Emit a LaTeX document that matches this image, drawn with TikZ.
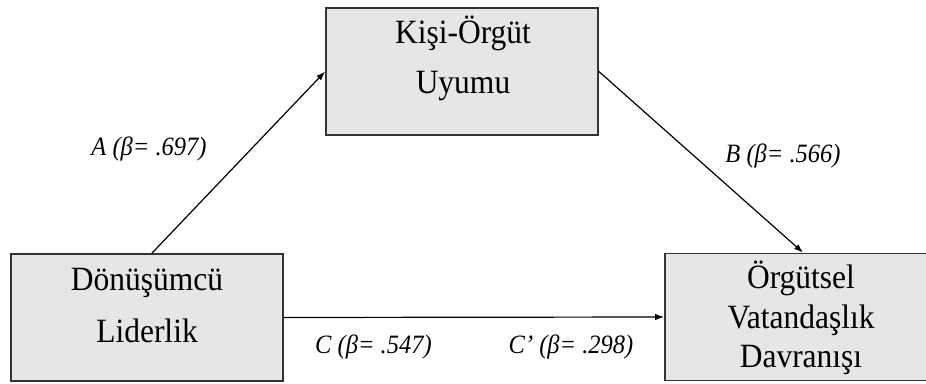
\documentclass[tikz,border=0pt]{standalone}
\usepackage{fontspec}
\setmainfont{Liberation Serif}
\usetikzlibrary{arrows.meta}
\definecolor{boxfill}{HTML}{E6E6E6}
\definecolor{boxline}{HTML}{333333}
\newcommand\talltext[1]{\scalebox{1}[1.08]{#1}}
\tikzset{
  varbox/.style={draw=boxline, line width=1.8pt, fill=boxfill, minimum width=272pt, minimum height=127pt, inner sep=0pt},
  boxtext/.style={anchor=base, inner sep=0pt, font=\fontsize{31.5}{37}\selectfont},
  coef/.style={anchor=base, inner sep=0pt, font=\fontsize{24.5}{28}\selectfont\itshape},
  path/.style={line width=1.2pt, -{Latex[length=9pt,width=6.5pt]}}
}
\begin{document}
\begin{tikzpicture}[x=1pt,y=-1pt]
\useasboundingbox (0,0) rectangle (926,383);
\node[varbox] (K) at (462,71.5) {};
\node[varbox] (D) at (147,317.5) {};
\node[varbox] (O) at (801,317) {};
\node[boxtext] (k1) at (463,43) {\talltext{Kişi-Örgüt}};
\node[boxtext] (k2) at (463,93) {\talltext{Uyumu}};
\node[boxtext] (d1) at (147,290) {\talltext{Dönüşümcü}};
\node[boxtext] (d2) at (147,342) {\talltext{Liderlik}};
\node[boxtext] (o1) at (801,288) {\talltext{Örgütsel}};
\node[boxtext] (o2) at (801,328) {\talltext{Vatandaşlık}};
\node[boxtext] (o3) at (801,367) {\talltext{Davranışı}};
\draw[path] ([xshift=5pt]D.north) -- (K.west);
\draw[path] (K.east) -- ([xshift=2pt]O.north);
\draw[path] (D.east) -- (O.west);
\node[coef] (la) at (149,155) {\talltext{A (β= .697)}};
\node[coef] (lb) at (783,162) {\talltext{B (β= .566)}};
\node[coef] (lc) at (373.5,353) {\talltext{C (β= .547)}};
\node[coef] (lcp) at (571,353) {\talltext{C’ (β= .298)}};
\end{tikzpicture}
\end{document}
